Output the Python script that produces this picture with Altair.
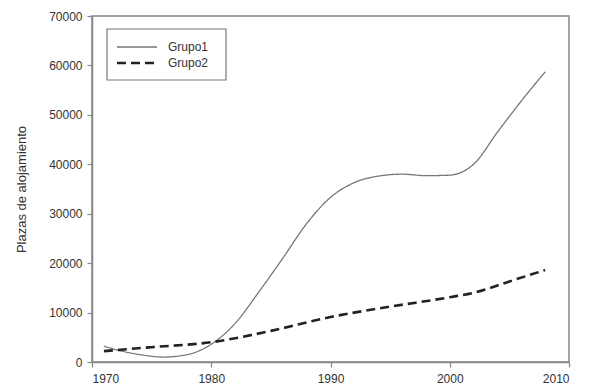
import altair as alt
import pandas as pd

g1_years = [1971, 1972, 1974, 1976, 1978, 1980, 1982, 1984, 1986, 1988, 1990,
            1992, 1994, 1996, 1998, 2000, 2001, 2002, 2004, 2006, 2008]
g1_vals = [3200, 2500, 1500, 1000, 1500, 3600, 7800, 14200, 21000, 28000, 33300,
           36300, 37600, 38000, 37700, 37800, 38400, 40000, 46500, 52800, 58700]

g2_years = [1971, 1975, 1980, 1985, 1990, 1995, 2000, 2002, 2005, 2008]
g2_vals = [2200, 3000, 4000, 6300, 9100, 11200, 13100, 14000, 16300, 18600]

series = ["Grupo1", "Grupo2"]
colors = ["#777777", "#222222"]
dashes = [[1, 0], [9, 5]]
widths = [1.3, 2.6]

df = pd.concat([
    pd.DataFrame({"year": g1_years, "value": g1_vals, "grupo": series[0]}),
    pd.DataFrame({"year": g2_years, "value": g2_vals, "grupo": series[1]}),
])
leg_df = pd.DataFrame({"grupo": series})

font = "Liberation Sans"

lines = alt.Chart(df).mark_line(interpolate="monotone").encode(
    x=alt.X("year:Q", scale=alt.Scale(domain=[1970, 2010], nice=False, zero=False),
            axis=alt.Axis(values=[1970, 1980, 1990, 2000, 2010], format="d", title=None,
                          grid=False, tickSize=5, labelPadding=6)),
    y=alt.Y("value:Q", scale=alt.Scale(domain=[0, 70000], nice=False),
            axis=alt.Axis(values=list(range(0, 70001, 10000)), format="d",
                          title="Plazas de alojamiento",
                          grid=False, tickSize=5, labelPadding=5, titlePadding=20)),
    color=alt.Color("grupo:N", scale=alt.Scale(domain=series, range=colors), legend=None),
    strokeDash=alt.StrokeDash("grupo:N", scale=alt.Scale(domain=series, range=dashes), legend=None),
    strokeWidth=alt.StrokeWidth("grupo:N", scale=alt.Scale(domain=series, range=widths), legend=None),
)

# legend box
box = alt.Chart(leg_df).mark_rect(fill="white", stroke="#777777", strokeWidth=1.2).encode(
    x=alt.value(15), x2=alt.value(134), y=alt.value(13), y2=alt.value(64)
).transform_filter(alt.datum.grupo == series[0])

legend_layers = [box]
for i, s in enumerate(series):
    ypos = 31 + 16 * i
    legend_layers.append(
        alt.Chart(leg_df).mark_rule(color=colors[i], strokeDash=dashes[i], strokeWidth=widths[i]).encode(
            x=alt.value(25), x2=alt.value(65), y=alt.value(ypos)
        ).transform_filter(alt.datum.grupo == s)
    )
    legend_layers.append(
        alt.Chart(leg_df).mark_text(align="left", baseline="middle", font=font, fontSize=12,
                                    color="#333333").encode(
            x=alt.value(76), y=alt.value(ypos), text="grupo:N"
        ).transform_filter(alt.datum.grupo == s)
    )

chart = alt.layer(lines, *legend_layers).properties(
    width=477, height=346,
    autosize=alt.AutoSizeParams(type="none"),
    padding={"left": 84, "top": 8, "right": 13, "bottom": 26},
).configure_view(
    stroke="#888888", strokeWidth=1.5
).configure_axis(
    domainColor="#888888", domainWidth=1.5, tickColor="#888888", tickWidth=1.2,
    labelFont=font, labelFontSize=12, labelColor="#333333",
    titleFont=font, titleFontSize=13, titleColor="#333333", titleFontWeight="normal",
)

chart.save("out.html", embed_options={"renderer": "svg", "actions": False})
